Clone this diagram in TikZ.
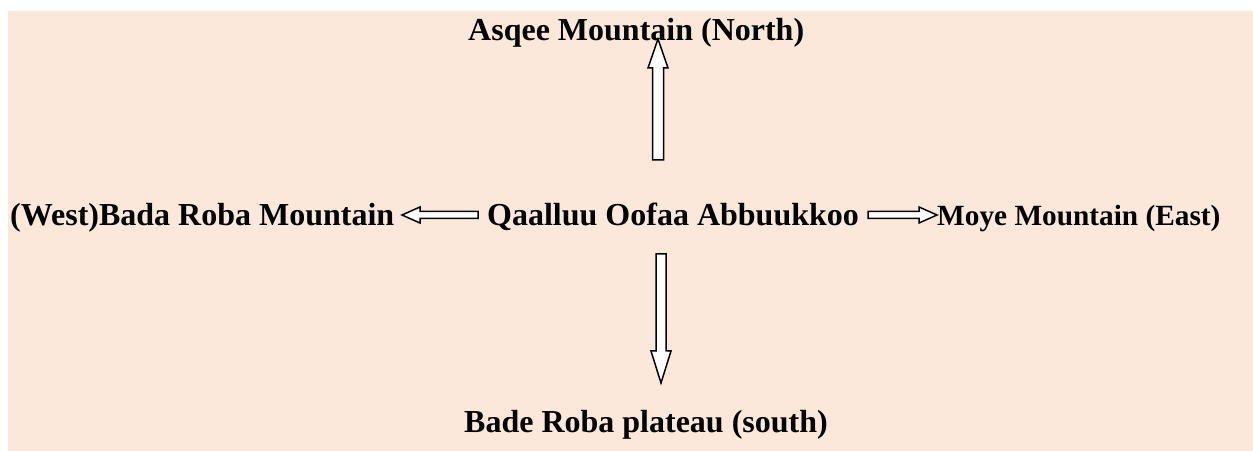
\documentclass[tikz,border=0pt]{standalone}
\usepackage{fontspec}
\setmainfont{Liberation Serif}
\definecolor{peach}{RGB}{252,232,218}
\newcommand{\blockarrow}[6]{% tail, angle, length, headlen, headhalf, shafthalf
  \begin{scope}[shift={(#1)}, rotate=#2]
    \draw[blkarrow] (0,#6) -- (#3-#4,#6) -- (#3-#4,#5) -- (#3,0) -- (#3-#4,-#5) -- (#3-#4,-#6) -- (0,-#6) -- cycle;
  \end{scope}}
\begin{document}
\begin{tikzpicture}[x=1pt,y=1pt,
  lbl/.style={inner sep=0pt, anchor=base west, font=\fontsize{32}{38}\selectfont\bfseries},
  lblsmall/.style={inner sep=0pt, anchor=base west, font=\fontsize{29.3}{35}\selectfont\bfseries},
  blkarrow/.style={draw=black, fill=white, line width=1.5pt, line join=miter}]
\useasboundingbox (0,0) rectangle (1253,450);
\fill[white] (0,0) rectangle (1253,450);
\fill[peach] (8,-1) rectangle (1254,439);
% labels
\node[lbl] (north) at (468,409) {Asqee Mountain (North)};
\node[lbl] (west) at (10,224) {(West)Bada Roba Mountain};
\node[lbl] (center) at (487,224) {Qaalluu Oofaa Abbuukkoo};
\node[lblsmall] (east) at (937,224) {Moye Mountain (East)};
\node[lbl] (south) at (464,18) {Bade Roba plateau (south)};
% arrow end points
\coordinate (upTail) at (658,290);
\coordinate (downTail) at (661,196);
\coordinate (leftTail) at (478,235);
\coordinate (rightTail) at (868,235);
\blockarrow{upTail}{90}{121}{29}{10}{5.5}
\blockarrow{downTail}{-90}{129}{32}{10}{5}
\blockarrow{leftTail}{180}{76}{18}{8}{3.5}
\blockarrow{rightTail}{0}{69}{18}{8}{3.5}
\end{tikzpicture}
\end{document}
